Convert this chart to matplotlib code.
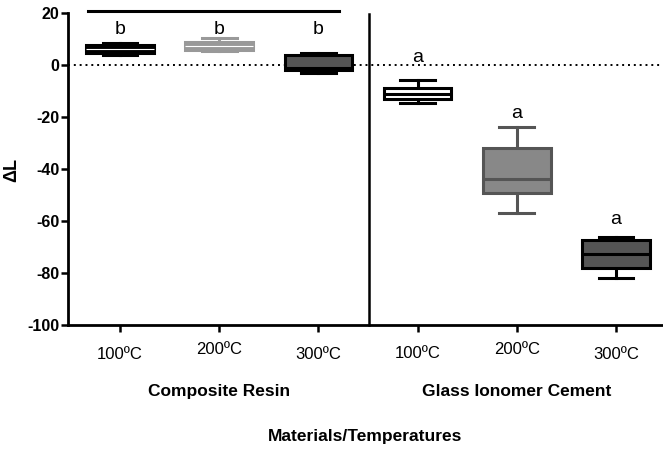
import matplotlib
matplotlib.use('Agg')
import matplotlib.pyplot as plt
from matplotlib.transforms import blended_transform_factory

plt.rcParams['font.family'] = ['Liberation Sans', 'DejaVu Sans']
plt.rcParams['axes.unicode_minus'] = False

# box summaries (whisker low, q1, median, q3, whisker high)
groups = ['Composite Resin', 'Glass Ionomer Cement']
temps = ['100ºC', '200ºC', '300ºC', '100ºC', '200ºC', '300ºC']
whis_lo = [3.8, 5.3, -3.0, -14.5, -57.1, -82.0]
q1 = [4.7, 5.8, -1.9, -13.1, -49.1, -78.2]
med = [6.2, 7.3, -1.2, -11.3, -44.0, -72.7]
q3 = [7.7, 8.7, 3.8, -8.9, -31.8, -67.3]
whis_hi = [8.6, 10.3, 4.7, -5.9, -23.7, -66.0]
letters = ['b', 'b', 'b', 'a', 'a', 'a']
letter_y = [13.5, 13.5, 13.5, 3.0, -18.5, -59.6]

faces = ['black', '#999999', '#555555', 'white', '#888888', '#555555']
edges = ['black', '#999999', 'black', 'black', '#555555', 'black']
medcols = ['white', 'white', 'black', 'black', '#555555', 'black']

fig = plt.figure(figsize=(6.63, 4.49), dpi=100)
ax = fig.add_axes([0.1026, 0.2762, 0.8974, 0.6948])

pos = list(range(1, 7))
stats = []
for i in range(6):
    stats.append(dict(whislo=whis_lo[i], q1=q1[i], med=med[i], q3=q3[i],
                      whishi=whis_hi[i], fliers=[]))

ax.axhline(0, color='black', ls=(0, (1, 2)), lw=1.4, zorder=1)

bp = ax.bxp(stats, positions=pos, widths=0.68, capwidths=0.35,
            patch_artist=True, showfliers=False)
for i in range(6):
    bp['boxes'][i].set(facecolor=faces[i], edgecolor=edges[i], lw=2.2, zorder=3)
    bp['medians'][i].set(color=medcols[i], lw=0.8 if i < 2 else 2.2, zorder=4)
    for w in bp['whiskers'][2 * i:2 * i + 2]:
        w.set(color=edges[i], lw=2.2, zorder=2)
    for c in bp['caps'][2 * i:2 * i + 2]:
        c.set(color=edges[i], lw=2.2, zorder=2)

for i in range(6):
    ax.text(pos[i], letter_y[i], letters[i], ha='center', va='center', fontsize=14)

# divider between materials and the top bar over the resin group
ax.plot([3.51, 3.51], [-100, 19.5], color='black', lw=1.8, clip_on=False)
ax.plot([0.68, 3.21], [20.9, 20.9], color='black', lw=2.2, clip_on=False)

ax.set_xlim(0.476, 6.474)
ax.set_ylim(-100, 20)
ax.set_yticks(range(-100, 21, 20))
ax.set_xticks(pos)
ax.set_xticklabels([''] * 6)
for lab in ax.get_yticklabels():
    lab.set_fontweight('bold')
ax.tick_params(axis='y', labelsize=11.5, length=5, width=1.8, pad=1)
ax.tick_params(axis='x', length=5, width=1.8)

for s in ['top', 'right']:
    ax.spines[s].set_visible(False)
for s in ['left', 'bottom']:
    ax.spines[s].set_linewidth(2.0)

tr = blended_transform_factory(ax.transData, ax.transAxes)
lab_y = [-0.094, -0.080, -0.096, -0.092, -0.080, -0.096]
for i in range(6):
    ax.text(pos[i], lab_y[i], temps[i], transform=tr, ha='center', va='center',
            fontsize=12)
ax.text(2, -0.212, groups[0], transform=tr, ha='center', va='center',
        fontsize=12.5, fontweight='bold')
ax.text(5, -0.212, groups[1], transform=tr, ha='center', va='center',
        fontsize=12.5, fontweight='bold')

fig.text(0.551, 1 - 437 / 449, 'Materials/Temperatures', ha='center', va='center',
         fontsize=12.5, fontweight='bold')
fig.text(12 / 663, 1 - 170 / 449, 'ΔL', ha='center', va='center', rotation=90,
         fontsize=13, fontweight='bold')

fig.savefig('out.png', dpi=100)
